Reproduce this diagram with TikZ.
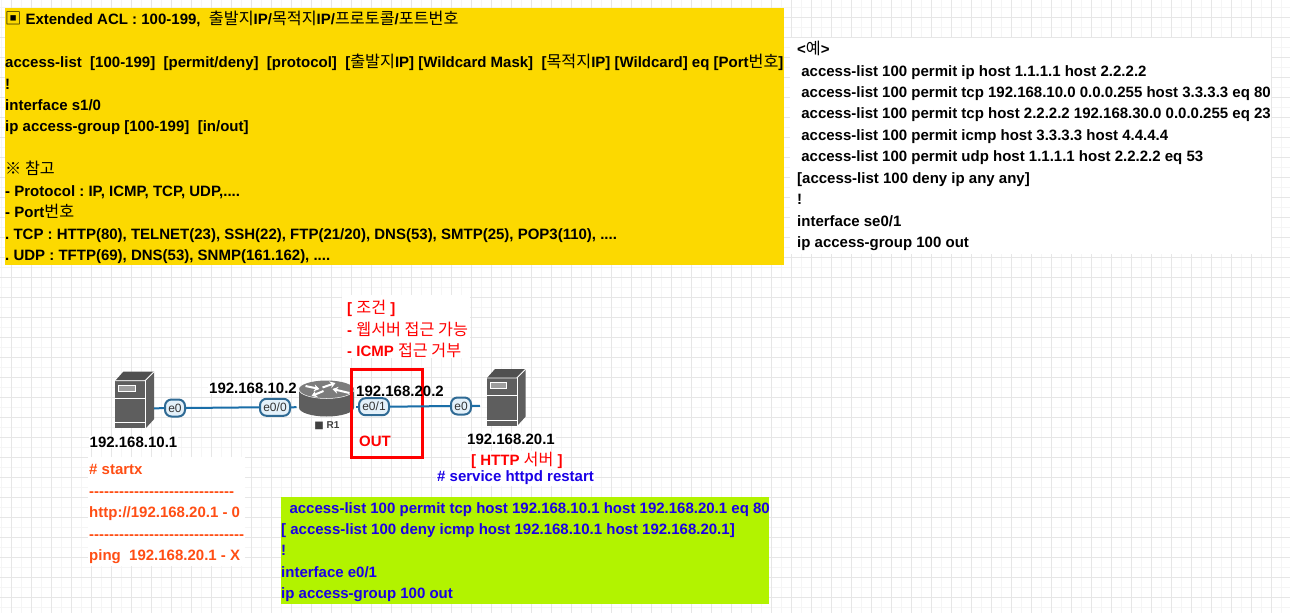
\documentclass[tikz,border=0pt]{standalone}
\usepackage{fontspec}
\setmainfont{Liberation Sans}
\newfontfamily\krfont[Scale=1.08]{Noto Sans CJK KR}
\newfontfamily\symfont{DejaVu Sans}
\newcommand{\KK}[1]{{\krfont\mdseries #1}}
\frenchspacing
\usetikzlibrary{arrows.meta}
\definecolor{gridmajor}{HTML}{E6E6E6}
\definecolor{gridminor}{HTML}{F5F5F5}
\definecolor{yellowbox}{HTML}{FCD900}
\definecolor{greenbox}{HTML}{B2F300}
\definecolor{acllue}{HTML}{1A00E6}
\definecolor{orangetxt}{HTML}{FF4E14}
\definecolor{redtxt}{HTML}{FF0000}
\definecolor{linkblue}{HTML}{1A6EA8}
\definecolor{pillfill}{HTML}{E4F1FA}
\definecolor{pillline}{HTML}{2F6A94}
\definecolor{devgray}{HTML}{5E5E5E}
\definecolor{devtop}{HTML}{7C7C7C}
\tikzset{
  x=1pt,y=-1pt,
  txt/.style={inner sep=0pt,anchor=north west,align=left,font=\fontsize{15}{21.45}\selectfont\bfseries},
  lbl/.style={inner sep=1pt,anchor=west,fill=white,font=\fontsize{15}{17}\selectfont\bfseries},
  pill/.style={draw=pillline,fill=pillfill,line width=2pt,rounded corners=6.5pt,inner sep=0pt,minimum height=17pt,text=black!80,font=\fontsize{12}{13}\selectfont},
  link/.style={draw=linkblue,line width=2pt},
  panel/.style={fill=#1,draw=none},
  routerarrow/.style={white,line width=2pt,-{Stealth[length=5.5pt,width=7pt]}},
  server/.pic={
    \fill[devgray] (0,0) rectangle (29.7,47.5);
    \fill[devgray!85!black] (0,0) -- (8,-9) -- (38.5,-9) -- (29.7,0) -- cycle;
    \fill[devgray] (30.5,0) -- (38.7,-9) -- (38.7,38.5) -- (30.5,47.5) -- cycle;
    \draw[white,line width=.8pt] (0,0) -- (29.7,0) -- (38.7,-9);
    \draw[white,line width=.8pt] (30,0) -- (30,47.5);
    \draw[white,line width=1pt] (0,17.8) -- (29.7,17.8) (0,42) -- (29.7,42);
    \draw[white,line width=1pt,fill=devgray!60] (3.2,4.5) rectangle (19.7,10.8);
    \coordinate (-port) at (38.7,27.8);
    \coordinate (-wport) at (-7,27.8);
  },
  router/.pic={
    \fill[devgray] (-27.5,0) -- (-27.5,18) arc[start angle=180,end angle=0,x radius=27.5,y radius=9] -- (27.5,0) -- cycle;
    \fill[devtop] (0,0) ellipse[x radius=27.5,y radius=9];
    \draw[white,line width=.5pt] (-27.5,0) arc[start angle=180,end angle=0,x radius=27.5,y radius=9];
    \draw[routerarrow] (-21,-3.5) -- (-7,-.5);
    \draw[routerarrow] (-4,-2) -- (9,-6.5);
    \draw[routerarrow] (-3,1.5) -- (-15,6.5);
    \draw[routerarrow] (23,3.5) -- (6,-.5);
    \coordinate (-left) at (-30,17.7);
    \coordinate (-right) at (29.5,17.2);
  }
}
\begin{document}
\begin{tikzpicture}
\useasboundingbox (0,0) rectangle (1290,613);
\fill[white] (0,0) rectangle (1290,613);
% grid
\foreach \gx in {1.5,21.5,...,1290}{\draw[gridminor,line width=.8pt] (\gx,0) -- (\gx,613);}
\foreach \gy in {7.5,27.5,...,613}{\draw[gridminor,line width=.8pt] (0,\gy) -- (1290,\gy);}
\foreach \gx in {11.5,31.5,...,1290}{\draw[gridmajor,line width=1pt] (\gx,0) -- (\gx,613);}
\foreach \gy in {17.5,37.5,...,613}{\draw[gridmajor,line width=1pt] (0,\gy) -- (1290,\gy);}
% panels
\fill[panel=yellowbox] (5,8) rectangle (784,265);
\fill[panel=white] (790,38) rectangle (1271,254);
\fill[panel=greenbox] (281,497) rectangle (769,604);
\fill[panel=white] (88,457) rectangle (245,566);
\fill[panel=white] (342,295) rectangle (470,358);
% yellow text
\node[txt] (syntax) at (5,11) {\KK{▣} Extended ACL : 100-199,\ \ \KK{출발지}IP/\KK{목적지}IP/\KK{프로토콜}/\KK{포트번호}\\[21.45pt]
access-list\ \ [100-199]\ \ [permit/deny]\ \ [protocol]\ \ [\KK{출발지}IP] [Wildcard Mask]\ \ [\KK{목적지}IP] [Wildcard] eq [Port\KK{번호}]\\
!\\
interface s1/0\\
ip access-group [100-199]\ \ [in/out]\\[21.45pt]
\KK{※ 참고}\\
- Protocol : IP, ICMP, TCP, UDP,....\\
- Port\KK{번호}\\
. TCP : HTTP(80), TELNET(23), SSH(22), FTP(21/20), DNS(53), SMTP(25), POP3(110), ....\\
. UDP : TFTP(69), DNS(53), SNMP(161.162), ....};
% example text
\node[txt] (example) at (797,41) {<\KK{예}>\\
\ access-list 100 permit ip host 1.1.1.1 host 2.2.2.2\\
\ access-list 100 permit tcp 192.168.10.0 0.0.0.255 host 3.3.3.3 eq 80\\
\ access-list 100 permit tcp host 2.2.2.2 192.168.30.0 0.0.0.255 eq 23\\
\ access-list 100 permit icmp host 3.3.3.3 host 4.4.4.4\\
\ access-list 100 permit udp host 1.1.1.1 host 2.2.2.2 eq 53\\
{[}access-list 100 deny ip any any]\\
!\\
interface se0/1\\
ip access-group 100 out};
% condition
\node[txt,text=redtxt] (cond) at (347,300) {{[} \KK{조건} ]\\
- \KK{웹서버 접근 가능}\\
- ICMP \KK{접근 거부}};
% devices
\pic (srvA) at (115.3,380.7) {server};
\pic (srvB) at (487,378) {server};
\pic (rtr) at (326.5,389.5) {router};
\node[inner sep=0pt,text=black!75,font=\fontsize{10}{12}\selectfont\bfseries] (rtrname) at (327,426) {{\symfont ■} R1};
% red box
\draw[redtxt,line width=2.2pt] (351.5,369.5) rectangle (422.5,457.5);
\node[lbl,text=redtxt,fill=none] (out) at (358,441) {OUT};
% ports and links
\node[pill,minimum width=20pt] (pA) at (175,408) {e0};
\node[pill,minimum width=30pt] (pR0) at (275,407.3) {e0/0};
\node[pill,minimum width=30pt] (pR1) at (374,406.7) {e0/1};
\node[pill,minimum width=20pt] (pB) at (461,406) {e0};
\draw[link] (srvA-port) -- (pA.west);
\draw[link] (pA.east) -- (pR0.west);
\draw[link] (pR0.east) -- (rtr-left);
\draw[link] (rtr-right) -- (pR1.west);
\draw[link] (pR1.east) -- (pB.west);
\draw[link] (pB.east) -- (srvB-wport);
% address labels
\node[lbl] (ipA) at (88.5,442) {192.168.10.1};
\node[lbl] (ipR0) at (208,388) {192.168.10.2};
\node[lbl,fill=none] (ipR1) at (355,391) {192.168.20.2};
\node[lbl] (ipB) at (466,439) {192.168.20.1};
\node[lbl,text=redtxt] (http) at (470,460) {[ HTTP \KK{서버} ]};
\node[lbl,text=acllue] (svc) at (436,478) {\# service httpd restart};
% orange
\node[txt,text=orangetxt] (startx) at (89,464.5) {\# startx\\
-{}-{}-{}-{}-{}-{}-{}-{}-{}-{}-{}-{}-{}-{}-{}-{}-{}-{}-{}-{}-{}-{}-{}-{}-{}-{}-{}-{}-\\
http://192.168.20.1 - 0\\
-{}-{}-{}-{}-{}-{}-{}-{}-{}-{}-{}-{}-{}-{}-{}-{}-{}-{}-{}-{}-{}-{}-{}-{}-{}-{}-{}-{}-{}-{}-\\
ping\ \ 192.168.20.1 - X};
% green
\node[txt,text=acllue] (acl) at (281,502) {\ \ access-list 100 permit tcp host 192.168.10.1 host 192.168.20.1 eq 80\\
{[} access-list 100 deny icmp host 192.168.10.1 host 192.168.20.1]\\
!\\
interface e0/1\\
ip access-group 100 out};
\end{tikzpicture}
\end{document}
